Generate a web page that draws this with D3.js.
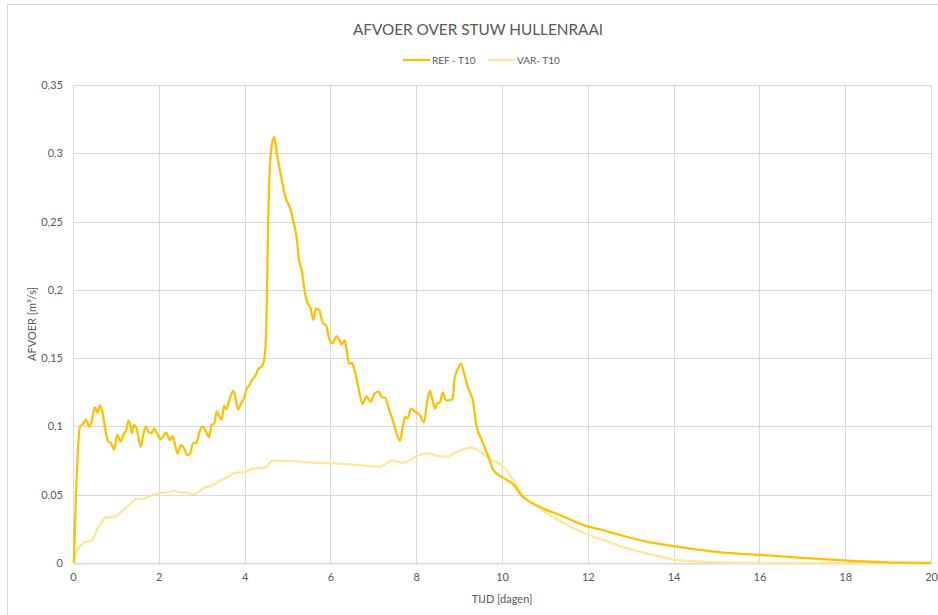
<!DOCTYPE html>
<html>
<head>
<meta charset="utf-8">
<script src="https://cdn.jsdelivr.net/npm/d3@7"></script>
<style>
  html, body { margin: 0; padding: 0; background: #fff; }
  svg { display: block; font-family: Lato, "Open Sans", sans-serif; }
</style>
</head>
<body>
<svg id="chart" width="938" height="615"></svg>
<script>
const title = "AFVOER OVER STUW HULLENRAAI";
const seriesNames = ["REF - T10", "VAR- T10"];
const seriesColors = ["#FFC000", "#FFE699"];
const xTicks = [0, 2, 4, 6, 8, 10, 12, 14, 16, 18, 20];
const yTicks = [0, 0.05, 0.1, 0.15, 0.2, 0.25, 0.3, 0.35];
const xLabel = "TIJD [dagen]";
const yLabel = "AFVOER [m³/s]";

const refT = [0.02,0.07,0.12,0.16,0.24,0.30,0.38,0.43,0.51,0.57,0.63,0.69,0.77,0.82,0.88,0.96,1.03,1.11,1.19,1.24,1.29,1.33,1.37,1.42,1.48,1.58,1.64,1.70,1.76,1.83,1.89,1.96,2.04,2.17,2.26,2.32,2.38,2.44,2.51,2.59,2.66,2.73,2.80,2.87,2.96,3.02,3.09,3.17,3.23,3.29,3.35,3.40,3.47,3.52,3.58,3.64,3.74,3.80,3.85,3.92,3.99,4.05,4.11,4.17,4.25,4.32,4.40,4.45,4.49,4.51,4.55,4.59,4.63,4.69,4.75,4.87,4.96,5.06,5.13,5.21,5.27,5.33,5.41,5.46,5.54,5.60,5.66,5.74,5.80,5.83,5.90,5.97,6.05,6.15,6.21,6.26,6.33,6.38,6.44,6.50,6.57,6.65,6.75,6.84,6.94,7.02,7.12,7.22,7.27,7.37,7.45,7.54,7.62,7.68,7.74,7.80,7.88,7.97,8.09,8.18,8.26,8.32,8.39,8.44,8.49,8.54,8.62,8.69,8.77,8.85,8.90,8.96,9.04,9.14,9.21,9.32,9.41,9.53,9.68,9.80,10.01,10.30,10.44,10.65,10.96,11.43,11.97,12.28,12.83,13.37,13.99,14.92,16.01,16.94,18.03,19.2,20];
const refV = [0,0.05,0.085,0.0998,0.102,0.105,0.0998,0.103,0.114,0.110,0.1155,0.110,0.095,0.089,0.088,0.083,0.094,0.089,0.095,0.097,0.104,0.102,0.095,0.101,0.0986,0.085,0.0944,0.100,0.096,0.095,0.0986,0.095,0.0905,0.0954,0.090,0.093,0.0864,0.080,0.0864,0.084,0.079,0.080,0.088,0.0876,0.097,0.0998,0.0969,0.092,0.101,0.102,0.111,0.108,0.105,0.115,0.1125,0.119,0.126,0.119,0.1125,0.117,0.121,0.128,0.130,0.134,0.137,0.142,0.144,0.148,0.160,0.178,0.251,0.290,0.305,0.312,0.300,0.280,0.267,0.260,0.251,0.239,0.222,0.2145,0.1975,0.191,0.1865,0.178,0.1865,0.185,0.178,0.1755,0.174,0.1645,0.161,0.166,0.163,0.160,0.163,0.156,0.1457,0.1466,0.140,0.129,0.1164,0.122,0.118,0.1237,0.1254,0.121,0.121,0.112,0.105,0.095,0.0895,0.0986,0.107,0.106,0.113,0.111,0.108,0.103,0.119,0.126,0.118,0.113,0.117,0.117,0.1247,0.119,0.119,0.1206,0.136,0.141,0.146,0.136,0.128,0.119,0.0998,0.090,0.078,0.068,0.0627,0.0564,0.0498,0.0449,0.040,0.034,0.027,0.0247,0.0198,0.0156,0.0124,0.0083,0.0059,0.0039,0.0017,0.0002,0];

const varT = [0.02,0.07,0.12,0.20,0.30,0.43,0.47,0.55,0.67,0.77,0.98,1.08,1.17,1.33,1.48,1.68,1.79,1.99,2.14,2.26,2.38,2.49,2.65,2.79,2.92,3.08,3.23,3.43,3.62,3.81,3.99,4.13,4.28,4.50,4.63,4.75,5.29,5.52,6.06,6.69,7.15,7.33,7.46,7.70,7.86,8.01,8.28,8.48,8.71,8.86,9.10,9.29,9.49,9.72,9.95,10.03,10.26,10.49,10.80,11.27,11.97,12.36,12.91,13.53,13.99,14.54,15.7,17,18.5,20];
const varV = [0,0.007,0.0107,0.0139,0.0156,0.0163,0.018,0.024,0.030,0.0334,0.0339,0.0364,0.0388,0.0432,0.0468,0.0473,0.049,0.051,0.0515,0.0522,0.0529,0.0515,0.0515,0.0503,0.0522,0.0554,0.0566,0.0602,0.0632,0.0664,0.0664,0.0686,0.0693,0.070,0.0747,0.0749,0.0742,0.0737,0.073,0.0717,0.0705,0.0734,0.0747,0.0734,0.0754,0.0783,0.0803,0.0786,0.0778,0.0798,0.0832,0.0847,0.0815,0.0759,0.0725,0.0705,0.061,0.049,0.0417,0.032,0.0212,0.0168,0.0107,0.0059,0.0027,0.001,0.0002,0,0,0];

const svg = d3.select("#chart");
const W = 938, H = 615;
const margin = {left: 73, right: 7, top: 85, bottom: 52};

// outer chart border
svg.append("rect").attr("x", 7.5).attr("y", 4.5).attr("width", 940).attr("height", 620)
  .attr("fill", "#fff").attr("stroke", "#d9d9d9").attr("stroke-width", 1);

const x = d3.scaleLinear().domain([0, 20]).range([margin.left, W - margin.right]);
const y = d3.scaleLinear().domain([0, 0.35]).range([H - margin.bottom, margin.top]);

const fmt = d => d === 0 ? "0" : String(+d.toFixed(2)).replace(".", ",");

// gridlines
const grid = svg.append("g");
grid.selectAll("line.h").data(yTicks).join("line")
  .attr("x1", x(0)).attr("x2", x(20))
  .attr("y1", d => Math.round(y(d)) + 0.5).attr("y2", d => Math.round(y(d)) + 0.5)
  .attr("stroke", "#d9d9d9").attr("stroke-width", 1);
grid.selectAll("line.v").data(xTicks).join("line")
  .attr("y1", y(0)).attr("y2", y(0.35))
  .attr("x1", d => Math.round(x(d)) + 0.5).attr("x2", d => Math.round(x(d)) + 0.5)
  .attr("stroke", "#d9d9d9").attr("stroke-width", 1);

// axes
const xAxis = svg.append("g").attr("transform", `translate(0,${Math.round(y(0)) + 0.5})`)
  .call(d3.axisBottom(x).tickValues(xTicks).tickFormat(d => d).tickSize(0).tickPadding(10));
xAxis.select(".domain").attr("stroke", "#d9d9d9");
xAxis.selectAll("text").attr("fill", "#595959").style("font-size", "11px").style("font-family", "Lato, 'Open Sans', sans-serif");

const yAxis = svg.append("g").attr("transform", `translate(${x(0) - 8},0)`)
  .call(d3.axisLeft(y).tickValues(yTicks).tickFormat(fmt).tickSize(0).tickPadding(2));
yAxis.select(".domain").remove();
yAxis.selectAll("text").attr("fill", "#595959").style("font-size", "11px").style("font-family", "Lato, 'Open Sans', sans-serif");

// axis titles
svg.append("text").attr("x", (x(0) + x(20)) / 2).attr("y", 603).attr("text-anchor", "middle")
  .attr("fill", "#595959").style("font-size", "11px").text(xLabel);
svg.append("text").attr("transform", `translate(36,${(y(0) + y(0.35)) / 2}) rotate(-90)`)
  .attr("text-anchor", "middle").attr("fill", "#595959").style("font-size", "11px").text(yLabel);

// title
svg.append("text").attr("x", 478).attr("y", 35).attr("text-anchor", "middle")
  .attr("fill", "#595959").style("font-size", "15.3px").text(title);

// lines
const line = d3.line().x(d => x(d[0])).y(d => y(d[1])).curve(d3.curveMonotoneX);
const refData = refT.map((t, i) => [t, refV[i]]);
const varData = varT.map((t, i) => [t, varV[i]]);

svg.append("path").datum(varData).attr("d", line).attr("fill", "none")
  .attr("stroke", seriesColors[1]).attr("stroke-width", 2.25).attr("stroke-linejoin", "round");
svg.append("path").datum(refData).attr("d", line).attr("fill", "none")
  .attr("stroke", seriesColors[0]).attr("stroke-width", 2.25).attr("stroke-linejoin", "round");

// legend
const legendItems = [{name: seriesNames[0], color: seriesColors[0], x: 403}, {name: seriesNames[1], color: seriesColors[1], x: 488}];
const lg = svg.append("g");
legendItems.forEach(it => {
  lg.append("line").attr("x1", it.x).attr("x2", it.x + 27).attr("y1", 60).attr("y2", 60)
    .attr("stroke", it.color).attr("stroke-width", 2.25);
  lg.append("text").attr("x", it.x + 29).attr("y", 63.5).attr("fill", "#595959")
    .style("font-size", "10px").text(it.name);
});
</script>
</body>
</html>
